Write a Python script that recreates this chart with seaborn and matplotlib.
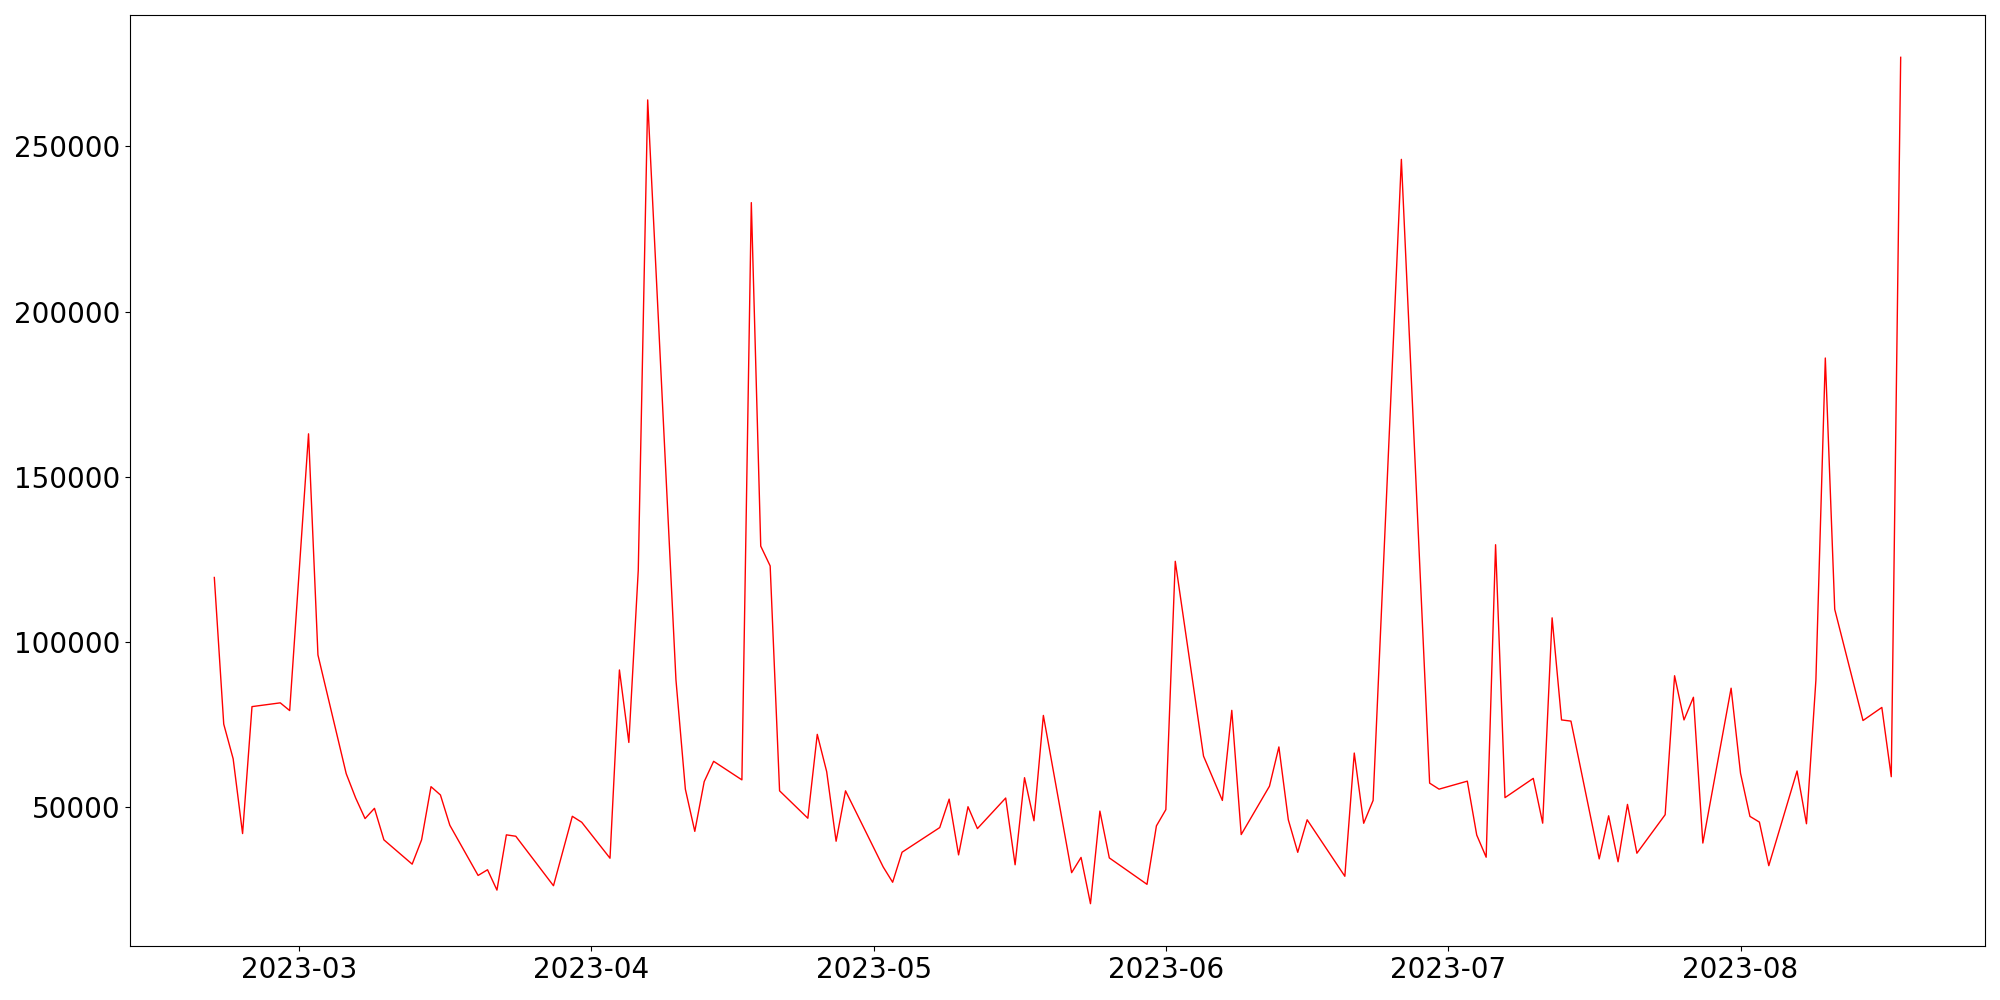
import matplotlib
matplotlib.use('Agg')
import matplotlib.pyplot as plt
import seaborn as sns
import pandas as pd

# 日期（只有交易日，周末等缺失）
dates = [
    '2023-02-20', '2023-02-21', '2023-02-22', '2023-02-23', '2023-02-24',
    '2023-02-27', '2023-02-28', '2023-03-02', '2023-03-03',
    '2023-03-06', '2023-03-07', '2023-03-08', '2023-03-09', '2023-03-10',
    '2023-03-13', '2023-03-14', '2023-03-15', '2023-03-16', '2023-03-17',
    '2023-03-20', '2023-03-21', '2023-03-22', '2023-03-23', '2023-03-24',
    '2023-03-28', '2023-03-30', '2023-03-31',
    '2023-04-03', '2023-04-04', '2023-04-05', '2023-04-06', '2023-04-07',
    '2023-04-10', '2023-04-11', '2023-04-12', '2023-04-13', '2023-04-14',
    '2023-04-17', '2023-04-18', '2023-04-19', '2023-04-20', '2023-04-21',
    '2023-04-24', '2023-04-25', '2023-04-26', '2023-04-27', '2023-04-28',
    '2023-05-02', '2023-05-03', '2023-05-04',
    '2023-05-08', '2023-05-09', '2023-05-10', '2023-05-11', '2023-05-12',
    '2023-05-15', '2023-05-16', '2023-05-17', '2023-05-18', '2023-05-19',
    '2023-05-22', '2023-05-23', '2023-05-24', '2023-05-25', '2023-05-26',
    '2023-05-30', '2023-05-31', '2023-06-01', '2023-06-02',
    '2023-06-05', '2023-06-07', '2023-06-08', '2023-06-09',
    '2023-06-12', '2023-06-13', '2023-06-14', '2023-06-15', '2023-06-16',
    '2023-06-20', '2023-06-21', '2023-06-22', '2023-06-23',
    '2023-06-26', '2023-06-29', '2023-06-30',
    '2023-07-03', '2023-07-04', '2023-07-05', '2023-07-06', '2023-07-07',
    '2023-07-10', '2023-07-11', '2023-07-12', '2023-07-13', '2023-07-14',
    '2023-07-17', '2023-07-18', '2023-07-19', '2023-07-20', '2023-07-21',
    '2023-07-24', '2023-07-25', '2023-07-26', '2023-07-27', '2023-07-28',
    '2023-07-31', '2023-08-01', '2023-08-02', '2023-08-03', '2023-08-04',
    '2023-08-07', '2023-08-08', '2023-08-09', '2023-08-10', '2023-08-11',
    '2023-08-14', '2023-08-16', '2023-08-17', '2023-08-18',
]

values = [
    119500, 75100, 64600, 41960, 80400,
    81540, 79200, 163000, 96040,
    60090, 52750, 46500, 49600, 40060,
    32700, 40060, 56160, 53650, 44470,
    29280, 31000, 24840, 41570, 41150,
    26160, 47190, 45380,
    34500, 91500, 69550, 121700, 264100,
    88520, 55380, 42630, 57700, 63840,
    58220, 233000, 129000, 123000, 54900,
    46600, 72000, 60700, 39640, 54900,
    31840, 27220, 36310,
    43780, 52390, 35500, 50090, 43470,
    52720, 32510, 58880, 45830, 77730,
    30120, 34740, 20730, 48760, 34590,
    26590, 44290, 49210, 124400,
    65410, 51990, 79270, 41660,
    56310, 68190, 46130, 36280, 46130,
    29030, 66340, 45080, 51990,
    246100, 57230, 55410,
    57830, 41510, 34800, 129420, 52840,
    58670, 45110, 107280, 76370, 76010,
    34290, 47340, 33420, 50790, 36010,
    47670, 89750, 76370, 83230, 39090,
    85980, 60210, 47160, 45440, 32240,
    60910, 44930, 88390, 185950, 109850,
    76190, 80150, 59180, 277000,
]

df = pd.DataFrame({'date': pd.to_datetime(dates), 'value': values})

fig, ax = plt.subplots(figsize=(20, 10), dpi=100)
sns.lineplot(data=df, x='date', y='value', color='red', linewidth=1, ax=ax)

ax.set_xlabel('')
ax.set_ylabel('')
plt.xticks(size=20)
plt.yticks(size=20)

plt.subplots_adjust(left=0.065, right=0.9925, top=0.985, bottom=0.054)
plt.savefig('out.png', format='png')
